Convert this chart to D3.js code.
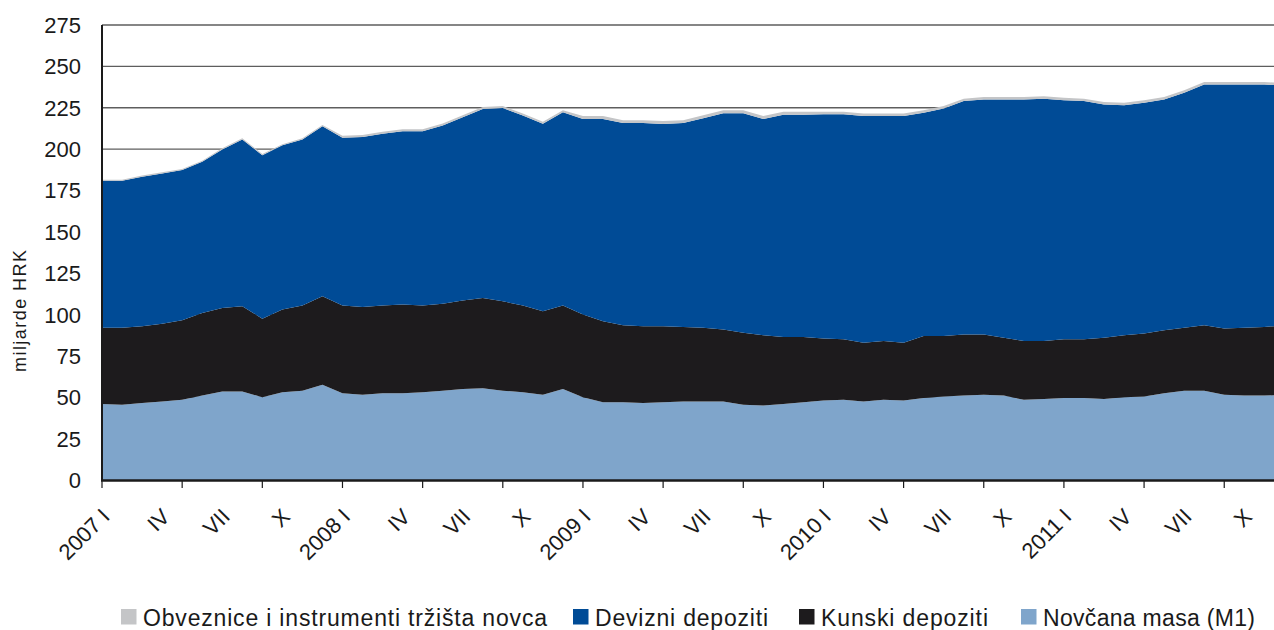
<!DOCTYPE html>
<html><head><meta charset="utf-8">
<script src="https://cdn.jsdelivr.net/npm/d3@7"></script>
<style>body{margin:0;background:#fff}svg{display:block}text{font-family:"Liberation Sans",Arial,sans-serif;fill:#1a1a1a}</style>
</head><body><svg id="c" width="1274" height="630"></svg>
<script>
const years = ["2007","2008","2009","2010","2011"];
const romans = ["I","II","III","IV","V","VI","VII","VIII","IX","X","XI","XII"];
const yTicks = [0,25,50,75,100,125,150,175,200,225,250,275];
const seriesNames = ["Novčana masa (M1)","Kunski depoziti","Devizni depoziti","Obveznice i instrumenti tržišta novca"];
const legendOrder = ["Obveznice i instrumenti tržišta novca","Devizni depoziti","Kunski depoziti","Novčana masa (M1)"];
const colors = {"Novčana masa (M1)":"#7fa5cb","Kunski depoziti":"#1d1b1d","Devizni depoziti":"#004b96","Obveznice i instrumenti tržišta novca":"#c4c5c7"};

const m1 = [46,45.5,46.5,47.5,48.5,51,53.5,53.5,50,53,54,57.5,
  52.5,51.5,52.5,52.5,53,54,55,55.5,54,53,51.5,55,
  50,47,47,46.5,47,47.5,47.5,47.5,45.5,45,46,47,
  48,48.5,47.5,48.5,48,49.5,50.5,51,51.5,51,48.5,49,
  49.5,49.5,49,50,50.5,52.5,54,54,51.5,51,51,51.5];
const kunski = [46,46.5,46.5,47,48,50,50.5,51.5,47.5,50,51.5,53.5,
  53,53,53,53.5,52.5,52.5,53.5,54.5,54,52.5,50.5,50.5,
  50,49,46.5,46.5,46,45,44.5,43.5,43.5,42.5,40.5,39.5,
  37.5,36.5,35.5,35.5,35,37.5,36.5,37,36.5,35,35.5,35,
  35.5,35.5,37,37.5,38,38,38,39.5,40,41,41.5,42];
const devizni = [88.8,88.8,90.3,90.8,90.8,91.3,95.8,100.8,98.8,99.3,100.3,102.8,
  101.3,102.8,103.8,104.8,105.3,107.8,110.8,114.3,116.8,114.8,113.3,116.8,
  118.2,122.2,122.2,122.7,122.2,123.2,126.7,130.7,132.7,130.7,134.2,134.2,
  135.5,136,137,136,137,135,137.5,141,142,144,146,146.5,
  144.5,144,141,139,139.5,139.5,142,145.5,147.5,147,146.5,145];
const obveznice = [0.7,0.7,0.7,0.7,0.7,0.7,0.7,0.7,0.7,0.7,0.7,0.7,
  1.2,1.2,1.2,1.2,1.2,1.2,1.2,1.2,1.2,1.2,1.2,1.2,
  1.8,1.8,1.8,1.8,1.8,1.8,1.8,1.8,1.8,1.8,1.8,1.8,
  1.5,1.5,1.5,1.5,1.5,1.5,1.5,1.5,1.5,1.5,1.5,1.5,
  1.5,1.5,1.5,1.5,1.5,1.5,1.5,1.5,1.5,1.5,1.5,1.5];

const months = [];
years.forEach(y => romans.forEach((r,j) => months.push({year:y, roman:r, m:j})));
const rows = months.map((d,i) => ({i, "Novčana masa (M1)":m1[i], "Kunski depoziti":kunski[i], "Devizni depoziti":devizni[i], "Obveznice i instrumenti tržišta novca":obveznice[i]}));

const svg = d3.select("#c");
const left = 102, step = 20.04;
const x = d3.scaleLinear().domain([0, months.length-1]).range([left, left + step*(months.length-1)]);
const y = d3.scaleLinear().domain([0,275]).range([480,25]);

// gridlines
svg.append("g").selectAll("line").data(yTicks.filter(t=>t>0)).join("line")
  .attr("x1", left).attr("x2", 1274).attr("y1", d=>y(d)).attr("y2", d=>y(d))
  .attr("stroke", "#5e5e5e").attr("stroke-width", 1.3);

const stack = d3.stack().keys(seriesNames)(rows);
const area = d3.area().x(d=>x(d.data.i)).y0(d=>y(d[0])).y1(d=>y(d[1]));
svg.append("g").selectAll("path").data(stack).join("path")
  .attr("d", area).attr("fill", d=>colors[d.key]);

// y axis labels
svg.append("g").selectAll("text").data(yTicks).join("text")
  .attr("x", 81).attr("y", d=>y(d)+8).attr("text-anchor","end")
  .attr("font-size", 22).text(d=>d);

svg.append("text").attr("transform","translate(26,311) rotate(-90)")
  .attr("text-anchor","middle").attr("font-size",18)
  .attr("textLength",122).attr("lengthAdjust","spacing").text("miljarde HRK");

// axes lines
svg.append("line").attr("x1",left).attr("x2",left).attr("y1",25).attr("y2",481)
  .attr("stroke","#1a1a1a").attr("stroke-width",2);
svg.append("line").attr("x1",left-1).attr("x2",1274).attr("y1",480.5).attr("y2",480.5)
  .attr("stroke","#1a1a1a").attr("stroke-width",2.5);

// ticks every 4 months
const tickIdx = d3.range(0, months.length, 4);
svg.append("g").selectAll("line").data(tickIdx).join("line")
  .attr("x1", d=>x(d)).attr("x2", d=>x(d)).attr("y1", 481).attr("y2", 488)
  .attr("stroke","#1a1a1a").attr("stroke-width",1.2);

// labels every 3 months
const labelIdx = d3.range(0, months.length, 3);
svg.append("g").selectAll("text").data(labelIdx).join("text")
  .attr("transform", d=>`translate(${x(d)+9},${518}) rotate(-45)`)
  .attr("text-anchor","end").attr("font-size",22)
  .text(d => months[d].m===0 ? months[d].year + " " + months[d].roman : months[d].roman);

// legend
const legX = {"Obveznice i instrumenti tržišta novca":121,"Devizni depoziti":573,"Kunski depoziti":799,"Novčana masa (M1)":1021};
const legW = {"Obveznice i instrumenti tržišta novca":404,"Devizni depoziti":173,"Kunski depoziti":167,"Novčana masa (M1)":212};
const lg = svg.append("g").selectAll("g").data(legendOrder).join("g")
  .attr("transform", d=>`translate(${legX[d]},609)`);
lg.append("rect").attr("width",15.5).attr("height",15.5).attr("fill", d=>colors[d]);
lg.append("text").attr("x",22).attr("y",16.5).attr("font-size",23)
  .attr("textLength", d=>legW[d]).attr("lengthAdjust","spacing").text(d=>d);
</script></body></html>
